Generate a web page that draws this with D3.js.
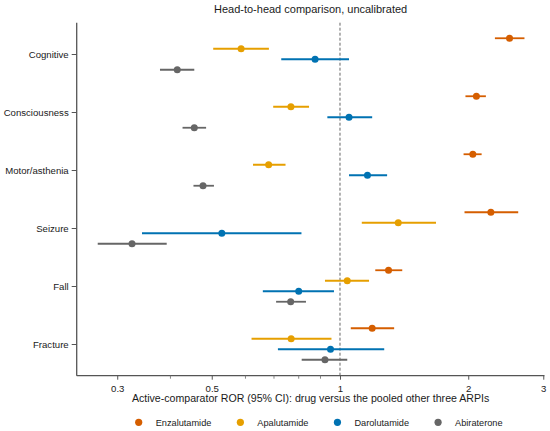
<head>
    <style> body { margin: 0; background: #fff; } text { font-family: "Liberation Sans", Arial, sans-serif; } </style>
    <script src="https://d3js.org/d3.v7.min.js"></script>
</head>

<body>
    <svg id="chart" width="550" height="431"></svg>

    <script>
        const categories = ['Cognitive', 'Consciousness', 'Motor/asthenia', 'Seizure', 'Fall', 'Fracture']
        const drugs = ['Enzalutamide', 'Apalutamide', 'Darolutamide', 'Abiraterone']
        const drugColors = ['#D55E00', '#E69F00', '#0072B2', '#666666']

        // point estimate, lower and upper 95% CI, one value per category
        const enzEst = [2.50, 2.09, 2.05, 2.26, 1.30, 1.19]
        const enzLow = [2.31, 1.97, 1.95, 1.96, 1.21, 1.06]
        const enzHigh = [2.71, 2.20, 2.15, 2.62, 1.40, 1.34]

        const apaEst = [0.586, 0.767, 0.680, 1.37, 1.04, 0.768]
        const apaLow = [0.504, 0.697, 0.625, 1.125, 0.922, 0.620]
        const apaHigh = [0.681, 0.846, 0.745, 1.68, 1.17, 0.955]

        const darEst = [0.874, 1.05, 1.16, 0.528, 0.80, 0.950]
        const darLow = [0.728, 0.934, 1.05, 0.343, 0.659, 0.715]
        const darHigh = [1.05, 1.19, 1.29, 0.812, 0.968, 1.27]

        const abiEst = [0.415, 0.455, 0.477, 0.325, 0.766, 0.922]
        const abiLow = [0.378, 0.427, 0.453, 0.270, 0.708, 0.813]
        const abiHigh = [0.455, 0.485, 0.506, 0.392, 0.832, 1.04]

        const majorTicks = [0.3, 0.5, 1, 2, 3]
        const minorTicks = [0.4, 0.6, 0.7, 0.8, 0.9]

        const title = 'Head-to-head comparison, uncalibrated'
        const xTitle = 'Active-comparator ROR (95% CI): drug versus the pooled other three ARPIs'

        const series = [
            [enzEst, enzLow, enzHigh],
            [apaEst, apaLow, apaHigh],
            [darEst, darLow, darHigh],
            [abiEst, abiLow, abiHigh]
        ]

        let rows = []
        drugs.forEach((drug, di) => {
            categories.forEach((cat, ci) => {
                rows.push({
                    drug: drug, di: di, cat: cat,
                    est: series[di][0][ci], lo: series[di][1][ci], hi: series[di][2][ci]
                })
            })
        })

        let plotLeft = 76.7
        let plotRight = 544.5
        let plotTop = 22.7
        let plotBottom = 375.7

        const svg = d3.select('#chart')

        let x = d3.scaleLog()
            .domain([0.241, 3.02])
            .range([plotLeft, plotRight])

        let y = d3.scalePoint()
            .domain(categories)
            .range([plotTop + 31.3, plotBottom - 31.7])

        let offset = d3.scalePoint()
            .domain(drugs)
            .range([-15.75, 15.75])

        let color = d3.scaleOrdinal(drugs, drugColors)

        // reference line at ROR = 1
        svg.append('line')
            .attr('x1', x(1)).attr('x2', x(1))
            .attr('y1', plotTop).attr('y2', plotBottom)
            .attr('stroke', '#666')
            .attr('stroke-width', 1)
            .attr('stroke-dasharray', '3,2')

        // x axis
        let xAxis = svg.append('g')
            .attr('transform', `translate(0,${plotBottom})`)
            .call(d3.axisBottom(x).tickValues(majorTicks).tickFormat(d3.format('')).tickSize(4).tickPadding(5).tickSizeOuter(0))

        xAxis.selectAll('.minor')
            .data(minorTicks)
            .join('line')
                .attr('class', 'minor')
                .attr('x1', d => x(d)).attr('x2', d => x(d))
                .attr('y1', 0).attr('y2', 3)
                .attr('stroke', '#777')
                .attr('stroke-width', 0.9)

        // y axis
        let yAxis = svg.append('g')
            .attr('transform', `translate(${plotLeft},0)`)
            .call(d3.axisLeft(y).tickSize(5).tickPadding(3).tickSizeOuter(0))

        yAxis.select('.domain').attr('d', `M0,${plotTop}V${plotBottom}`)
        xAxis.select('.domain').attr('d', `M${plotLeft},0H${plotRight}`)

        for (const axis of [xAxis, yAxis]) {
            axis.selectAll('text')
                .style('fill', '#1a1a1a')
                .style('font-size', '9.6px')
                .style('font-family', '"Liberation Sans", Arial, sans-serif')
            axis.selectAll('.tick line').style('stroke', '#555')
            axis.selectAll('.domain').style('stroke', '#555').style('stroke-width', 1.3)
        }

        // CI segments
        svg.append('g')
            .selectAll('line')
            .data(rows)
            .join('line')
                .attr('x1', d => x(d.lo))
                .attr('x2', d => x(d.hi))
                .attr('y1', d => y(d.cat) + offset(d.drug))
                .attr('y2', d => y(d.cat) + offset(d.drug))
                .attr('stroke', d => color(d.drug))
                .attr('stroke-width', 1.8)

        // point estimates
        svg.append('g')
            .selectAll('circle')
            .data(rows)
            .join('circle')
                .attr('cx', d => x(d.est))
                .attr('cy', d => y(d.cat) + offset(d.drug))
                .attr('r', 3.5)
                .attr('fill', d => color(d.drug))

        // titles
        let plotMid = (plotLeft + plotRight) / 2

        svg.append('text')
            .attr('x', plotMid)
            .attr('y', 13)
            .attr('text-anchor', 'middle')
            .style('font-size', '11px')
            .style('fill', '#1a1a1a')
            .text(title)

        svg.append('text')
            .attr('x', plotMid)
            .attr('y', 402)
            .attr('text-anchor', 'middle')
            .style('font-size', '10.6px')
            .style('fill', '#1a1a1a')
            .text(xTitle)

        // legend
        let legend = svg.append('g').attr('transform', 'translate(0,422.3)')
        let lx = 138.7
        drugs.forEach(drug => {
            let item = legend.append('g').attr('transform', `translate(${lx},0)`)
            item.append('circle')
                .attr('r', 3.6)
                .attr('fill', color(drug))
            let t = item.append('text')
                .attr('x', 17)
                .attr('dy', '0.35em')
                .style('font-size', '9.2px')
                .style('fill', '#1a1a1a')
                .text(drug)
            lx += 17 + t.node().getComputedTextLength() + 29
        })
    </script>
</body>
